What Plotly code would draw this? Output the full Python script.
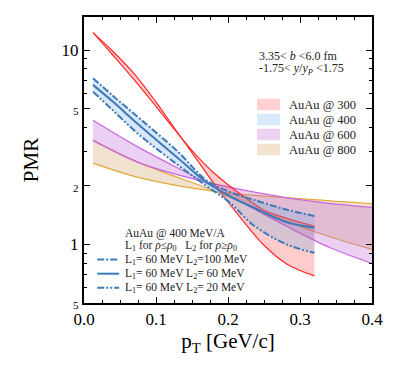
import plotly.graph_objects as go

# ---------------- data ----------------
# AuAu @ 300 : two bounding curves
pt_red_a = [0.0125, 0.04, 0.069, 0.10, 0.12, 0.14, 0.16, 0.18, 0.217, 0.249, 0.272, 0.32]
red_a = [12.3, 9.43, 7.08, 5.13, 4.15, 3.36, 2.77, 2.34, 1.82, 1.51, 1.40, 1.24]
pt_red_b = [0.0125, 0.04, 0.069, 0.10, 0.12, 0.14, 0.16, 0.18, 0.217, 0.249, 0.2815, 0.32]
red_b = [12.3, 9.86, 7.60, 5.40, 4.25, 3.34, 2.63, 2.07, 1.38, 1.00, 0.794, 0.689]

# AuAu @ 400 : three symmetry-energy settings
pt_blue = [0.0125, 0.04, 0.078, 0.13, 0.17, 0.2028, 0.235, 0.2815, 0.32]
blue_l2_100 = [7.16, 5.82, 4.42, 3.01, 2.14, 1.86, 1.70, 1.51, 1.40]
blue_l2_60 = [6.62, 5.43, 4.07, 2.79, 2.09, 1.77, 1.55, 1.30, 1.22]
blue_l2_20 = [6.11, 4.90, 3.63, 2.57, 2.00, 1.64, 1.26, 1.00, 0.906]

# AuAu @ 600
pt_pur_a = [0.0125, 0.078, 0.166, 0.25, 0.32, 0.40]
pur_a = [3.43, 2.62, 2.11, 1.82, 1.66, 1.55]
pt_pur_b = [0.0125, 0.078, 0.166, 0.2815, 0.342, 0.40]
pur_b = [4.36, 3.13, 2.11, 1.24, 0.962, 0.80]

# AuAu @ 800
pt_org_a = [0.0125, 0.078, 0.184, 0.30, 0.40]
org_a = [2.62, 2.20, 1.87, 1.72, 1.62]
pt_org_b = [0.0125, 0.078, 0.184, 0.249, 0.3185, 0.40]
org_b = [3.43, 2.62, 1.87, 1.48, 1.17, 0.943]

band_names = ["AuAu @ 300", "AuAu @ 400", "AuAu @ 600", "AuAu @ 800"]
line_names = ["L<sub>1</sub>= 60 MeV L<sub>2</sub>=100 MeV",
              "L<sub>1</sub>= 60 MeV L<sub>2</sub>= 60 MeV",
              "L<sub>1</sub>= 60 MeV L<sub>2</sub>= 20 MeV"]

xtick_vals = [0.0, 0.1, 0.2, 0.3, 0.4]
xtick_text = ["0.0", "0.1", "0.2", "0.3", "0.4"]
ytick_vals = [0.5, 1, 2, 5, 10]
ytick_text = ['<span style="font-size:11px">5</span>', "1",
              '<span style="font-size:11px">2</span>',
              '<span style="font-size:11px">5</span>', "10"]
yminor_vals = [0.6, 0.7, 0.8, 0.9, 3, 4, 6, 7, 8, 9]

# ---------------- styles ----------------
FONT = "Liberation Serif"
red_line, red_fill = "#ff2a2a", "rgba(255,0,0,0.2)"
blue_line, blue_fill = "#3d7ab8", "rgba(110,170,230,0.27)"
pur_line, pur_fill = "#c866e0", "rgba(190,100,220,0.3)"
org_line, org_fill = "#e2a83a", "rgba(210,160,100,0.3)"
legend_fills = ["#ffd0d0", "#d8e9f9", "#ecd2f2", "#f2e4d0"]
dash_styles = ["7px,2px,2px,2px", "solid", "7px,2px,2px,2px,2px,2px"]

fig = go.Figure()


def band(xa, ya, xb, yb, lc, fc, width=1.2):
    fig.add_trace(go.Scatter(x=xa, y=ya, mode="lines",
                             line=dict(color=lc, width=width, shape="spline"),
                             hoverinfo="skip", showlegend=False))
    fig.add_trace(go.Scatter(x=xb, y=yb, mode="lines", fill="tonexty", fillcolor=fc,
                             line=dict(color=lc, width=width, shape="spline"),
                             hoverinfo="skip", showlegend=False))


band(pt_org_a, org_a, pt_org_b, org_b, org_line, org_fill)
band(pt_pur_a, pur_a, pt_pur_b, pur_b, pur_line, pur_fill)
band(pt_red_a, red_a, pt_red_b, red_b, red_line, red_fill)
# blue fill between the outer curves
fig.add_trace(go.Scatter(x=pt_blue, y=blue_l2_20, mode="lines",
                         line=dict(width=0, shape="spline"), hoverinfo="skip",
                         showlegend=False))
fig.add_trace(go.Scatter(x=pt_blue, y=blue_l2_100, mode="lines", fill="tonexty",
                         fillcolor=blue_fill, line=dict(width=0, shape="spline"),
                         hoverinfo="skip", showlegend=False))
for ys, d in zip([blue_l2_100, blue_l2_60, blue_l2_20], dash_styles):
    fig.add_trace(go.Scatter(x=pt_blue, y=ys, mode="lines",
                             line=dict(color=blue_line, width=2, dash=d, shape="spline"),
                             hoverinfo="skip", showlegend=False))

# ---------------- legends drawn as annotations ----------------
ann = []
shapes = []
# fill legend (top right)
ly0 = 0.694
for i, (nm, col) in enumerate(zip(band_names, legend_fills)):
    yc = ly0 - i * 0.0525
    shapes.append(dict(type="rect", xref="paper", yref="paper",
                       x0=0.601, x1=0.681, y0=yc - 0.02, y1=yc + 0.02,
                       fillcolor=col, line=dict(width=0)))
    ann.append(dict(xref="paper", yref="paper", x=0.705, y=yc, text=nm,
                    xanchor="left", yanchor="middle", showarrow=False,
                    font=dict(size=12.5, family=FONT, color="#222")))
ann.append(dict(xref="paper", yref="paper", x=0.60, y=0.865,
                text="3.35&lt; <i>b</i> &lt;6.0 fm", xanchor="left", yanchor="middle",
                showarrow=False, font=dict(size=12, family=FONT, color="#222")))
ann.append(dict(xref="paper", yref="paper", x=0.60, y=0.818,
                text="-1.75&lt; <i>y</i>/<i>y<sub>P</sub></i> &lt;1.75", xanchor="left",
                yanchor="middle", showarrow=False,
                font=dict(size=12, family=FONT, color="#222")))
# line legend (bottom left)
ann.append(dict(xref="paper", yref="paper", x=0.135, y=0.243,
                text="AuAu @ 400 MeV/A", xanchor="left", yanchor="middle",
                showarrow=False, font=dict(size=11.5, family=FONT, color="#222")))
ann.append(dict(xref="paper", yref="paper", x=0.135, y=0.199,
                text="L<sub>1</sub> for <i>ρ</i>≤<i>ρ</i><sub>0</sub>   L<sub>2</sub> for <i>ρ</i>≥<i>ρ</i><sub>0</sub>",
                xanchor="left", yanchor="middle",
                showarrow=False, font=dict(size=11.5, family=FONT, color="#222")))
for i, (nm, d) in enumerate(zip(line_names, dash_styles)):
    yc = 0.152 - i * 0.0495
    shapes.append(dict(type="line", xref="paper", yref="paper",
                       x0=0.046, x1=0.122, y0=yc, y1=yc,
                       line=dict(color=blue_line, width=2, dash=d)))
    ann.append(dict(xref="paper", yref="paper", x=0.135, y=yc, text=nm,
                    xanchor="left", yanchor="middle", showarrow=False,
                    font=dict(size=11.5, family=FONT, color="#222")))

fig.update_layout(
    width=411, height=366,
    margin=dict(l=84, r=39, t=17, b=63),
    paper_bgcolor="white", plot_bgcolor="white",
    font=dict(family=FONT, color="black"),
    annotations=ann, shapes=shapes, showlegend=False,
)
fig.update_xaxes(range=[0, 0.4], tickvals=xtick_vals, ticktext=xtick_text,
                 automargin=False,
                 ticks="inside", ticklen=6, tickwidth=1.2, tickcolor="black",
                 minor=dict(dtick=0.025, ticks="inside", ticklen=3, tickcolor="black"),
                 showline=True, linecolor="black", linewidth=2, mirror="ticks",
                 showgrid=False, zeroline=False,
                 tickfont=dict(size=17, family=FONT),
                 title=dict(text="p<sub>T</sub> [GeV/c]", font=dict(size=21, family=FONT),
                            standoff=2))
fig.update_yaxes(type="log", range=[-0.30103, 1.17], tickvals=ytick_vals,
                 ticktext=ytick_text, automargin=False,
                 ticks="inside", ticklen=6, tickwidth=1.2, tickcolor="black",
                 minor=dict(tickvals=yminor_vals, ticks="inside", ticklen=3,
                            tickcolor="black"),
                 showline=True, linecolor="black", linewidth=2, mirror="ticks",
                 showgrid=False, zeroline=False,
                 tickfont=dict(size=17, family=FONT),
                 title=dict(text="PMR", font=dict(size=21, family=FONT), standoff=17))

fig.write_html("out.html", config={"displayModeBar": False},
               post_script="document.body.style.margin='0px';")
